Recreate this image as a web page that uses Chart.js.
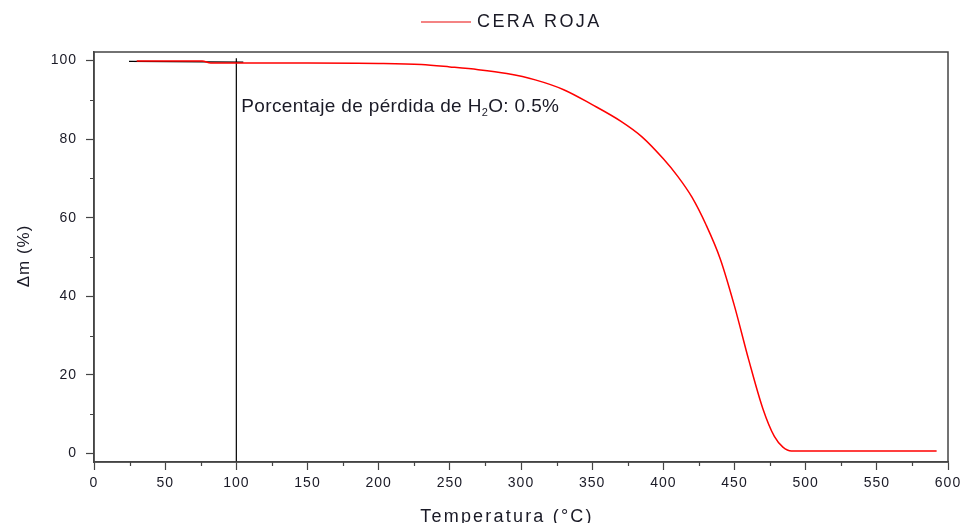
<!DOCTYPE html>
<html>
<head>
<meta charset="utf-8">
<script src="https://cdn.jsdelivr.net/npm/chart.js@4/dist/chart.umd.min.js"></script>
<style>
html,body{margin:0;padding:0;background:#fff;}
#wrap{width:962px;height:523px;position:relative;}
</style>
</head>
<body>
<div id="wrap"><canvas id="c" width="962" height="523"></canvas></div>
<script>
// ---- data ----
const seriesName = 'CERA ROJA';
const temperature = [30, 76, 82, 150, 200, 230, 250, 270, 290, 310, 330, 350, 370, 385, 400, 410, 420, 430, 440, 450, 460, 470, 478, 484, 490, 500, 592];
const massPct     = [99.9, 99.9, 99.4, 99.4, 99.3, 99.0, 98.4, 97.7, 96.7, 95.1, 92.6, 88.8, 84.6, 80.6, 75.0, 70.6, 65.3, 58.2, 49.5, 37.5, 23.8, 11.3, 4.3, 1.6, 0.6, 0.6, 0.6];
const baselineX = [24.6, 104.9];
const baselineY = [99.8, 99.6];
const markerX = [100, 100];
const markerY = [100.6, -2.2];
const xTickValues = [0, 50, 100, 150, 200, 250, 300, 350, 400, 450, 500, 550, 600];
const xMinorValues = [25, 75, 125, 175, 225, 275, 325, 375, 425, 475, 525, 575];
const yTickValues = [0, 20, 40, 60, 80, 100];
const yMinorValues = [10, 30, 50, 70, 90];
const xTitle = 'Temperatura (°C)';
const yTitle = 'Δm (%)';
const noteMain = 'Porcentaje de pérdida de H';
const noteSub = '2';
const noteEnd = 'O: 0.5%';
const noteAt = {x: 103.5, y: 86.9};

const redPts = temperature.map((t, i) => ({x: t, y: massPct[i]}));
const basePts = baselineX.map((t, i) => ({x: t, y: baselineY[i]}));
const markPts = markerX.map((t, i) => ({x: t, y: markerY[i]}));

const AXIS = '#444';
const TXT = '#1a1a26';
const FONT = '"Liberation Sans", Arial, sans-serif';

const extras = {
  id: 'extras',
  beforeDraw(chart) {
    chart.ctx.letterSpacing = '1px';
  },
  afterDraw(chart) {
    const ctx = chart.ctx;
    const a = chart.chartArea;
    const xs = chart.scales.x, ys = chart.scales.y;
    ctx.save();
    // frame
    ctx.strokeStyle = AXIS;
    ctx.lineWidth = 1.5;
    ctx.strokeRect(a.left, a.top, a.right - a.left, a.bottom - a.top);
    // minor ticks
    ctx.lineWidth = 1.2;
    ctx.beginPath();
    xMinorValues.forEach(v => {
      const px = Math.round(xs.getPixelForValue(v)) + 0.5;
      ctx.moveTo(px, a.bottom); ctx.lineTo(px, a.bottom + 4);
    });
    yMinorValues.forEach(v => {
      const py = Math.round(ys.getPixelForValue(v)) + 0.5;
      ctx.moveTo(a.left, py); ctx.lineTo(a.left - 4, py);
    });
    ctx.stroke();
    // legend
    ctx.strokeStyle = '#f05a5a';
    ctx.lineWidth = 1.6;
    ctx.beginPath();
    ctx.moveTo(421, 22); ctx.lineTo(471, 22);
    ctx.stroke();
    ctx.fillStyle = TXT;
    ctx.font = '18px ' + FONT;
    ctx.letterSpacing = '2.4px';
    ctx.textAlign = 'left';
    ctx.textBaseline = 'middle';
    ctx.fillText(seriesName, 477, 22);
    // x title
    ctx.textAlign = 'center';
    ctx.textBaseline = 'alphabetic';
    ctx.letterSpacing = '2.2px';
    ctx.fillText(xTitle, 507, 522);
    // y title
    ctx.save();
    ctx.translate(29, 256);
    ctx.rotate(-Math.PI / 2);
    ctx.font = '17px ' + FONT;
    ctx.letterSpacing = '1px';
    ctx.textAlign = 'center';
    ctx.textBaseline = 'alphabetic';
    ctx.fillText(yTitle, 0, 0);
    ctx.restore();
    // annotation
    ctx.font = '19px ' + FONT;
    ctx.letterSpacing = '0.35px';
    ctx.textAlign = 'left';
    ctx.textBaseline = 'alphabetic';
    let nx = xs.getPixelForValue(noteAt.x);
    const ny = ys.getPixelForValue(noteAt.y);
    ctx.fillText(noteMain, nx, ny);
    nx += ctx.measureText(noteMain).width;
    ctx.font = '11px ' + FONT;
    ctx.fillText(noteSub, nx, ny + 4);
    nx += ctx.measureText(noteSub).width;
    ctx.font = '19px ' + FONT;
    ctx.fillText(noteEnd, nx, ny);
    ctx.restore();
  }
};

new Chart(document.getElementById('c'), {
  type: 'line',
  data: {
    datasets: [
      {label: seriesName, data: redPts, borderColor: '#ff0000', borderWidth: 1.5, pointRadius: 0, cubicInterpolationMode: 'monotone', order: 0},
      {label: 'baseline', data: basePts, borderColor: '#000000', borderWidth: 1.2, pointRadius: 0, order: 1},
      {label: 'marker', data: markPts, borderColor: '#000000', borderWidth: 1.2, pointRadius: 0, order: 1}
    ]
  },
  options: {
    responsive: false,
    animation: false,
    events: [],
    layout: {padding: {left: 0, right: 14, top: 52, bottom: 0}},
    plugins: {legend: {display: false}, tooltip: {enabled: false}, title: {display: false}},
    scales: {
      x: {
        type: 'linear', min: 0, max: 600,
        afterBuildTicks: s => { s.ticks = xTickValues.map(v => ({value: v})); },
        afterFit: s => { s.height = 61; s.paddingLeft = 0; s.paddingRight = 0; },
        grid: {drawOnChartArea: false, drawTicks: true, tickLength: 8, tickColor: AXIS, tickWidth: 1.2},
        border: {display: true, color: AXIS, width: 1.5},
        ticks: {color: TXT, font: {family: FONT, size: 14}, padding: 5, maxRotation: 0, autoSkip: false}
      },
      y: {
        type: 'linear', min: -2.2, max: 102.2,
        afterBuildTicks: s => { s.ticks = yTickValues.map(v => ({value: v})); },
        afterFit: s => { s.width = 94; s.paddingTop = 0; s.paddingBottom = 0; },
        grid: {drawOnChartArea: false, drawTicks: true, tickLength: 8, tickColor: AXIS, tickWidth: 1.2},
        border: {display: true, color: AXIS, width: 1.5},
        ticks: {color: TXT, font: {family: FONT, size: 14}, padding: 9, autoSkip: false}
      }
    }
  },
  plugins: [extras]
});
</script>
</body>
</html>
